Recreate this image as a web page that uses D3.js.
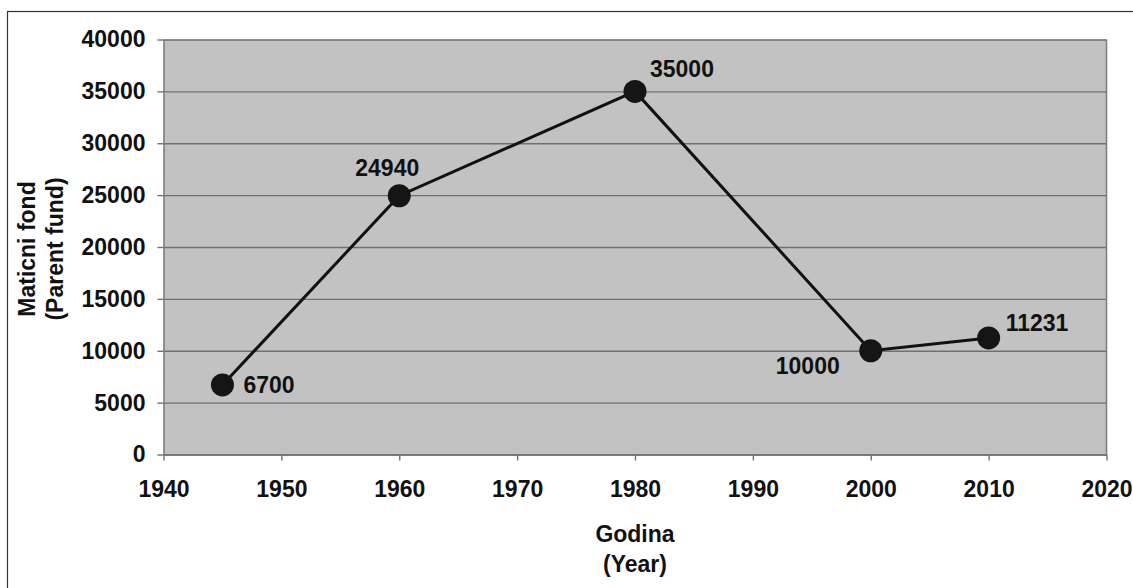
<!DOCTYPE html>
<html>
<head>
<meta charset="utf-8">
<script src="https://cdn.jsdelivr.net/npm/d3@7"></script>
<style>
  html, body { margin: 0; padding: 0; background: #fff; }
  svg text { font-family: "Liberation Sans", Arial, sans-serif; font-weight: bold; fill: #111; }
</style>
</head>
<body>
<svg id="chart" width="1133" height="588"></svg>
<script>
// data
const years = [1945, 1960, 1980, 2000, 2010]
const fund = [6700, 24940, 35000, 10000, 11231]
const xTicks = [1940, 1950, 1960, 1970, 1980, 1990, 2000, 2010, 2020]
const yTicks = [0, 5000, 10000, 15000, 20000, 25000, 30000, 35000, 40000]
const yTitle = ['Maticni fond', '(Parent fund)']
const xTitle = ['Godina', '(Year)']

// where each value label sits relative to its point
const labelPlace = [
	{ anchor: 'start', dx: 21, dy: 8 },
	{ anchor: 'middle', dx: -12, dy: -20 },
	{ anchor: 'start', dx: 15, dy: -14 },
	{ anchor: 'end', dx: -31, dy: 23 },
	{ anchor: 'start', dx: 17, dy: -7 },
]

const fs = 23
const svg = d3.select('#chart')
const plotL = 163.5, plotR = 1106.5, plotT = 39.5, plotB = 454.5

// outer frame (runs off the right and bottom of the picture)
svg.append('rect')
	.attr('x', 7.5).attr('y', 11.5)
	.attr('width', 1200).attr('height', 700)
	.attr('fill', 'none').attr('stroke', '#333').attr('stroke-width', 1.2)

const x = d3.scaleLinear().domain([1940, 2020]).range([plotL, plotR])
const y = d3.scaleLinear().domain([0, 40000]).range([plotB, plotT])

svg.append('rect')
	.attr('x', plotL).attr('y', plotT)
	.attr('width', plotR - plotL).attr('height', plotB - plotT)
	.attr('fill', '#c2c2c2')

// gridlines
svg.append('g')
	.attr('transform', `translate(${plotL},0)`)
	.call(d3.axisLeft(y).tickValues(yTicks).tickSize(-(plotR - plotL)).tickFormat(''))
	.call((g) => g.select('.domain').remove())
	.selectAll('line').attr('stroke', '#707070').attr('stroke-width', 1.4)

svg.append('line')
	.attr('x1', plotR).attr('x2', plotR).attr('y1', plotT).attr('y2', plotB)
	.attr('stroke', '#808080').attr('stroke-width', 1.6)

const yAxis = svg.append('g')
	.attr('transform', `translate(${plotL},0)`)
	.call(d3.axisLeft(y).tickValues(yTicks).tickFormat(d3.format('d')).tickSize(6).tickPadding(12).tickSizeOuter(0))
yAxis.select('.domain').attr('stroke', '#808080').attr('stroke-width', 1.6)
yAxis.selectAll('line').attr('stroke', '#707070').attr('stroke-width', 1.4)
yAxis.selectAll('text').attr('font-size', fs).attr('font-family', null).attr('fill', '#111')

const xAxis = svg.append('g')
	.attr('transform', `translate(0,${plotB})`)
	.call(d3.axisBottom(x).tickValues(xTicks).tickFormat(d3.format('d')).tickSize(6).tickPadding(20).tickSizeOuter(0))
xAxis.select('.domain').attr('stroke', '#707070').attr('stroke-width', 1.6)
xAxis.selectAll('line').attr('stroke', '#707070').attr('stroke-width', 1.4)
xAxis.selectAll('text').attr('font-size', fs).attr('font-family', null).attr('fill', '#111')

// axis titles
svg.append('g')
	.attr('transform', `translate(0,${(plotT + plotB) / 2 + 2}) rotate(-90)`)
	.selectAll('text').data(yTitle).enter().append('text')
	.attr('x', 0).attr('y', (d, i) => 35 + i * 28)
	.attr('text-anchor', 'middle').attr('font-size', fs)
	.text((d) => d)

svg.append('g')
	.selectAll('text').data(xTitle).enter().append('text')
	.attr('x', x(1980)).attr('y', (d, i) => 542 + i * 30)
	.attr('text-anchor', 'middle').attr('font-size', fs)
	.text((d) => d)

const pts = years.map((yr, i) => ({ yr, v: fund[i], p: labelPlace[i] }))

svg.append('path')
	.datum(pts)
	.attr('fill', 'none').attr('stroke', '#111').attr('stroke-width', 3)
	.attr('d', d3.line().x((d) => x(d.yr)).y((d) => y(d.v)))

svg.append('g').selectAll('circle').data(pts).enter().append('circle')
	.attr('cx', (d) => x(d.yr)).attr('cy', (d) => y(d.v)).attr('r', 11.5)
	.attr('fill', '#151515')

svg.append('g').selectAll('text').data(pts).enter().append('text')
	.attr('x', (d) => x(d.yr) + d.p.dx)
	.attr('y', (d) => y(d.v) + d.p.dy)
	.attr('text-anchor', (d) => d.p.anchor)
	.attr('font-size', fs)
	.text((d) => d.v)
</script>
</body>
</html>
